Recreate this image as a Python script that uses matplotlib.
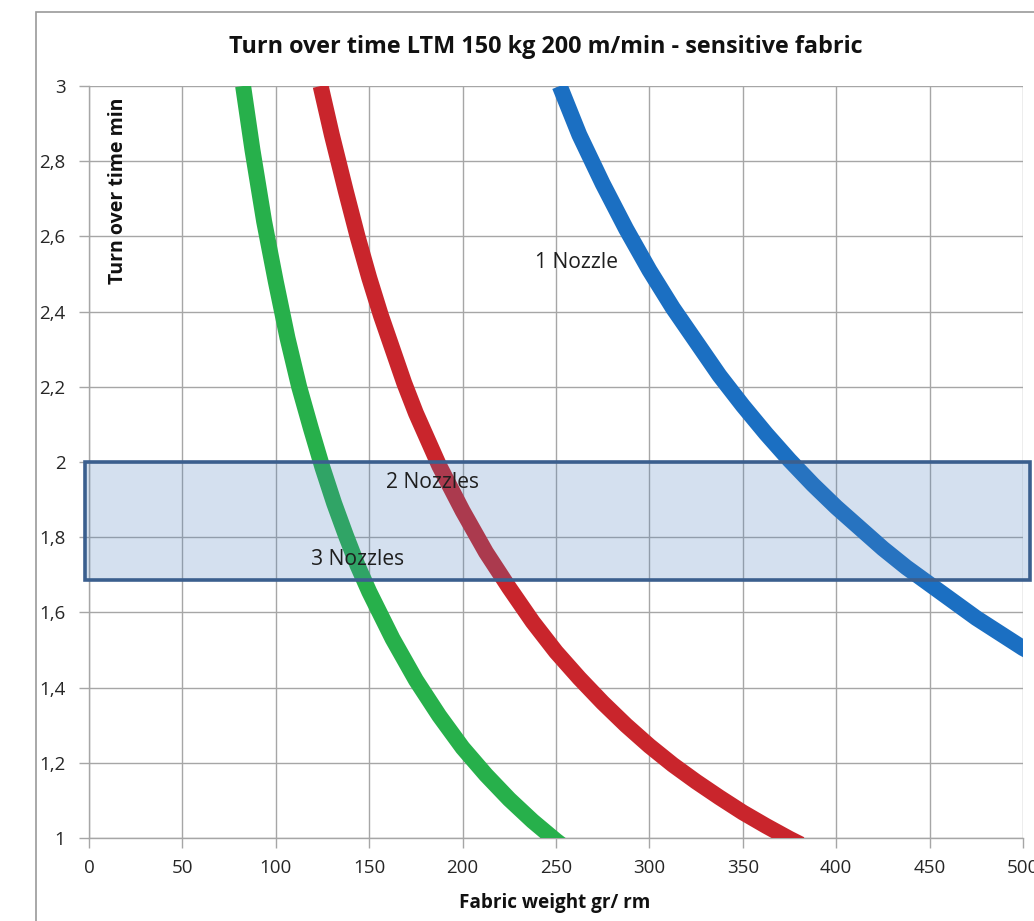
import matplotlib
matplotlib.use('Agg')
import matplotlib.pyplot as plt
from matplotlib.patches import Rectangle
from matplotlib.ticker import FuncFormatter

# ── data ────────────────────────────────────────────────────────────────
one_x = [252, 262.5, 275, 287.5, 300, 312.5, 325, 337.5, 350, 362.5, 375,
         387.5, 400, 412.5, 425, 437.5, 450, 462.5, 475, 487.5, 500, 503]
one_y = [3.0, 2.87, 2.74, 2.62, 2.51, 2.41, 2.32, 2.23, 2.15, 2.075, 2.005,
         1.94, 1.88, 1.825, 1.77, 1.72, 1.675, 1.63, 1.585, 1.545, 1.505, 1.497]

two_x = [124, 130, 137.5, 143.75, 150, 156.25, 162.5, 168.75, 175, 181.25,
         187.5, 193.75, 200, 212.5, 225, 237.5, 250, 262.5, 275, 287.5, 300,
         312.5, 325, 337.5, 350, 362.5, 375, 381]
two_y = [3.0, 2.87, 2.72, 2.6, 2.49, 2.39, 2.3, 2.21, 2.13, 2.06,
         1.99, 1.93, 1.87, 1.76, 1.665, 1.575, 1.495, 1.425, 1.36, 1.3, 1.245,
         1.195, 1.15, 1.108, 1.068, 1.032, 0.998, 0.983]

three_x = [82.5, 87.5, 93.75, 100, 106.25, 112.5, 118.75, 125, 131.25,
           137.5, 143.75, 150, 162.5, 175, 187.5, 200, 212.5, 225, 237.5,
           250, 256]
three_y = [3.0, 2.83, 2.64, 2.48, 2.33, 2.2, 2.09, 1.985, 1.89,
           1.805, 1.725, 1.655, 1.53, 1.42, 1.325, 1.24, 1.168, 1.103, 1.045,
           0.993, 0.97]

band_lo, band_hi = 1.685, 2.0
band_x0, band_x1 = -2, 504

labels = ['1 Nozzle', '2 Nozzles', '3 Nozzles']
label_pos = [(239, 2.53), (159, 1.945), (119, 1.742)]

title = 'Turn over time LTM 150 kg 200 m/min - sensitive fabric'
xlabel = 'Fabric weight gr/ rm'
ylabel = 'Turn over time min'

plt.rcParams['font.family'] = ['Open Sans', 'DejaVu Sans']

W, H = 1034, 921
fig = plt.figure(figsize=(W / 100, H / 100), dpi=100)

# outer chart-area border (cropped at right/bottom in the reference)
fig.patches.append(Rectangle((36 / W, -0.1), 1.2, 1 - 12 / H + 0.1,
                             transform=fig.transFigure, fill=False,
                             edgecolor='#9a9a9a', linewidth=1.2))

ax = fig.add_axes([89 / W, 1 - 838 / H, (1023 - 89) / W, (838 - 86) / H])

grid_c = '#a6a6a6'
ax.set_xlim(0, 500)
ax.set_ylim(1, 3)
ax.set_xticks(range(0, 501, 50))
ax.set_yticks([1 + 0.2 * i for i in range(11)])
ax.yaxis.set_major_formatter(FuncFormatter(
    lambda v, p: f'{v:.1f}'.rstrip('0').rstrip('.').replace('.', ',')))
ax.grid(True, color=grid_c, linewidth=1.0)
ax.set_axisbelow(True)
for s in ['top', 'right']:
    ax.spines[s].set_visible(False)
for s in ['left', 'bottom']:
    ax.spines[s].set_color(grid_c)
    ax.spines[s].set_linewidth(1.0)
ax.tick_params(colors=grid_c, labelcolor='#262626', length=7, width=1.0,
               labelsize=13.5)
ax.tick_params(axis='x', pad=8)
ax.tick_params(axis='y', pad=10)

lw = 11.5
for xs, ys, c in [(one_x, one_y, '#1b6fc2'),
                  (two_x, two_y, '#c9252c'),
                  (three_x, three_y, '#27b04b')]:
    ax.plot(xs, ys, color=c, linewidth=lw, solid_capstyle='butt',
            solid_joinstyle='round', zorder=3)

# highlighted band
ax.add_patch(Rectangle((band_x0, band_lo), band_x1 - band_x0, band_hi - band_lo,
                       facecolor='#4f81bd', alpha=0.24, edgecolor='none',
                       zorder=4, clip_on=False))
ax.add_patch(Rectangle((band_x0, band_lo), band_x1 - band_x0, band_hi - band_lo,
                       fill=False, edgecolor='#3b5f8e', linewidth=2.6,
                       zorder=5, clip_on=False))

for txt, (lx, ly) in zip(labels, label_pos):
    ax.text(lx, ly, txt, fontsize=15.2, color='#1f1f1f', ha='left',
            va='center', zorder=6)

ax.text(15.5, 2.72, ylabel, rotation=90, fontsize=14, fontweight='bold',
        ha='center', va='center', color='#111111', zorder=6)

fig.text(546 / W, 1 - 47 / H, title, fontsize=16.8, fontweight='bold',
         ha='center', va='center', color='#111111')
fig.text(555 / W, 1 - 903 / H, xlabel, fontsize=13.6, fontweight='bold',
         ha='center', va='center', color='#111111')

fig.savefig('out.png', dpi=100)
